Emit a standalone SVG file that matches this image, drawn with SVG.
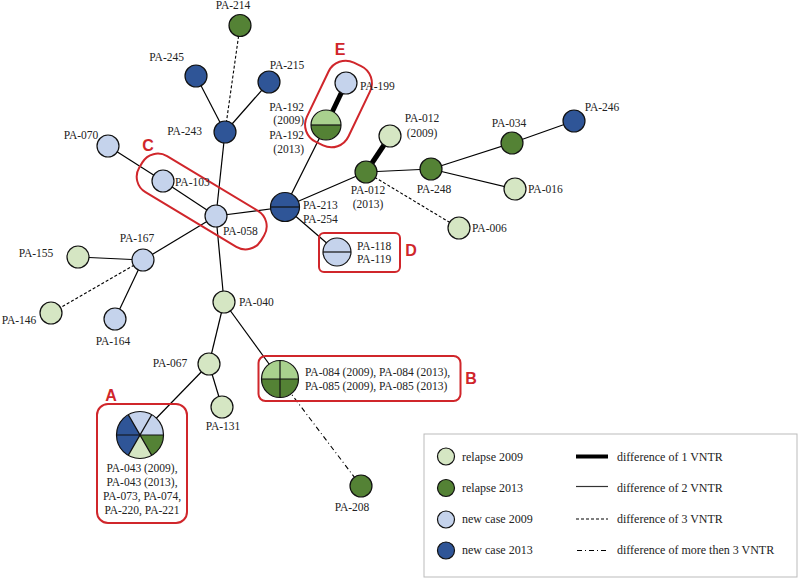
<svg xmlns="http://www.w3.org/2000/svg" width="800" height="581" viewBox="0 0 800 581">
<style>
.l{font-family:"Liberation Serif","Times New Roman",serif;font-size:11.5px;fill:#222}
.m{text-anchor:middle}
.e{text-anchor:end}
.g{font-family:"Liberation Serif","Times New Roman",serif;font-size:12px;fill:#222}
.t{font-family:"Liberation Sans",Arial,sans-serif;font-size:16px;font-weight:bold;fill:#d0262b}
.c1{stroke:#000;stroke-width:1.2;fill:none}
.c2{stroke:#000;stroke-width:5;fill:none}
.c3{stroke:#000;stroke-width:1.1;fill:none;stroke-dasharray:3 2}
.c4{stroke:#000;stroke-width:1.1;fill:none;stroke-dasharray:5 3 1 3}
.n{stroke:#111;stroke-width:1.2}
.pg{fill:#d5e6c3}
.bg{fill:#a9d18e}
.dg{fill:#548235}
.pb{fill:#c5d3ec}
.db{fill:#2f5597}
.box{fill:none;stroke:#d0262b;stroke-width:2}
.sep{stroke:#111;stroke-width:1.2;fill:none}
</style>
<rect width="800" height="581" fill="#fff"/>
<g id="connectors">
<line class="c3" x1="240" y1="26" x2="225" y2="132"/>
<line class="c1" x1="196" y1="76" x2="225" y2="132"/>
<line class="c1" x1="269" y1="82" x2="225" y2="132"/>
<line class="c1" x1="225" y1="132" x2="216" y2="216"/>
<line class="c1" x1="216" y1="216" x2="224" y2="302"/>
<line class="c1" x1="216" y1="216" x2="285" y2="207"/>
<line class="c1" x1="216" y1="216" x2="163" y2="181"/>
<line class="c1" x1="163" y1="181" x2="108" y2="146"/>
<line class="c1" x1="216" y1="216" x2="143" y2="260"/>
<line class="c1" x1="143" y1="260" x2="78" y2="257"/>
<line class="c3" x1="143" y1="260" x2="51" y2="313"/>
<line class="c1" x1="143" y1="260" x2="115" y2="319"/>
<line class="c1" x1="285" y1="207" x2="326" y2="125"/>
<line class="c2" x1="326" y1="125" x2="346" y2="83"/>
<line class="c1" x1="285" y1="207" x2="366" y2="172"/>
<line class="c2" x1="366" y1="172" x2="390" y2="136"/>
<line class="c1" x1="366" y1="172" x2="431" y2="169"/>
<line class="c3" x1="366" y1="172" x2="459" y2="228"/>
<line class="c1" x1="431" y1="169" x2="512" y2="143"/>
<line class="c1" x1="512" y1="143" x2="574" y2="121"/>
<line class="c1" x1="431" y1="169" x2="515" y2="189"/>
<line class="c1" x1="285" y1="207" x2="337" y2="252"/>
<line class="c1" x1="224" y1="302" x2="209" y2="364"/>
<line class="c1" x1="224" y1="302" x2="280" y2="379"/>
<line class="c1" x1="209" y1="364" x2="222" y2="407"/>
<line class="c1" x1="209" y1="364" x2="140" y2="435"/>
<line class="c4" x1="280" y1="379" x2="361" y2="486"/>
</g>
<g id="boxes">
<rect class="box" x="294.5" y="81" width="88" height="46" rx="19" transform="rotate(-64.4 338.5 104)"/>
<rect class="box" x="130.7" y="180.5" width="142" height="42" rx="18" transform="rotate(31 201.7 201.5)"/>
<rect class="box" x="319" y="233" width="81" height="39" rx="5"/>
<rect class="box" x="258.5" y="356" width="202" height="45" rx="7"/>
<rect class="box" x="97" y="404" width="90" height="119" rx="11"/>
<text class="t m" x="340" y="55">E</text>
<text class="t m" x="148" y="151">C</text>
<text class="t m" x="411" y="256">D</text>
<text class="t m" x="471" y="384">B</text>
<text class="t m" x="111" y="401">A</text>
</g>
<g id="PA-214"><circle class="n dg" cx="240" cy="25.5" r="11"/><text class="l m" x="233" y="9">PA-214</text></g>
<g id="PA-245"><circle class="n db" cx="196" cy="76" r="11"/><text class="l e" x="184" y="61">PA-245</text></g>
<g id="PA-215"><circle class="n db" cx="269" cy="82" r="11"/><text class="l m" x="287" y="69">PA-215</text></g>
<g id="PA-243"><circle class="n db" cx="225" cy="132" r="11"/><text class="l e" x="202" y="135">PA-243</text></g>
<g id="PA-199"><circle class="n pb" cx="346" cy="83" r="11"/><text class="l" x="360" y="90">PA-199</text></g>
<g id="PA-192">
<path class="bg" d="M311,125 A15,15 0 0 1 341,125 Z"/>
<path class="dg" d="M311,125 A15,15 0 0 0 341,125 Z"/>
<circle class="sep" cx="326" cy="125" r="15"/><line class="sep" x1="311" y1="125" x2="341" y2="125"/>
<text class="l e" x="304" y="111">PA-192</text><text class="l e" x="304" y="124">(2009)</text>
<text class="l e" x="304" y="139">PA-192</text><text class="l e" x="304" y="153">(2013)</text>
</g>
<g id="PA-012-2009"><circle class="n pg" cx="390" cy="136" r="11"/><text class="l m" x="422" y="122">PA-012</text><text class="l m" x="422" y="137">(2009)</text></g>
<g id="PA-012-2013"><circle class="n dg" cx="366" cy="172" r="11"/><text class="l m" x="368" y="194">PA-012</text><text class="l m" x="368" y="208">(2013)</text></g>
<g id="PA-248"><circle class="n dg" cx="431" cy="169" r="11"/><text class="l m" x="434" y="193">PA-248</text></g>
<g id="PA-034"><circle class="n dg" cx="512" cy="143" r="11"/><text class="l m" x="509" y="127">PA-034</text></g>
<g id="PA-246"><circle class="n db" cx="574" cy="121" r="11"/><text class="l m" x="602" y="111">PA-246</text></g>
<g id="PA-016"><circle class="n pg" cx="515" cy="189" r="11"/><text class="l" x="528" y="193">PA-016</text></g>
<g id="PA-006"><circle class="n pg" cx="459" cy="228" r="11"/><text class="l" x="472" y="232">PA-006</text></g>
<g id="PA-213">
<circle class="n db" cx="285" cy="207" r="14.5"/><line class="sep" x1="270.5" y1="207" x2="299.5" y2="207"/>
<text class="l" x="303" y="209">PA-213</text><text class="l" x="303" y="223">PA-254</text>
</g>
<g id="PA-118">
<circle class="n pb" cx="337" cy="252" r="14"/><line class="sep" x1="323" y1="252" x2="351" y2="252"/>
<text class="l" x="357" y="250">PA-118</text><text class="l" x="357" y="263">PA-119</text>
</g>
<g id="PA-070"><circle class="n pb" cx="108" cy="146" r="11"/><text class="l m" x="81" y="139">PA-070</text></g>
<g id="PA-103"><circle class="n pb" cx="163" cy="181" r="11"/><text class="l" x="175" y="186">PA-103</text></g>
<g id="PA-058"><circle class="n pb" cx="216" cy="216" r="11"/><text class="l" x="223" y="235">PA-058</text></g>
<g id="PA-167"><circle class="n pb" cx="143" cy="260" r="11"/><text class="l m" x="137" y="242">PA-167</text></g>
<g id="PA-155"><circle class="n pg" cx="78" cy="257" r="11"/><text class="l m" x="36" y="257">PA-155</text></g>
<g id="PA-146"><circle class="n pg" cx="51" cy="313" r="11"/><text class="l m" x="19" y="324">PA-146</text></g>
<g id="PA-164"><circle class="n pb" cx="115" cy="319" r="11"/><text class="l m" x="113" y="345">PA-164</text></g>
<g id="PA-040"><circle class="n pg" cx="224" cy="302" r="11"/><text class="l" x="239" y="306">PA-040</text></g>
<g id="PA-067"><circle class="n pg" cx="209" cy="364" r="11"/><text class="l m" x="170" y="367">PA-067</text></g>
<g id="PA-131"><circle class="n pg" cx="222" cy="407" r="11"/><text class="l m" x="223" y="430">PA-131</text></g>
<g id="PA-208"><circle class="n dg" cx="361" cy="486" r="11"/><text class="l m" x="352" y="511">PA-208</text></g>
<g id="PA-084">
<path class="bg" d="M261.5,379 A18.5,18.5 0 0 1 298.5,379 Z"/>
<path class="dg" d="M261.5,379 A18.5,18.5 0 0 0 298.5,379 Z"/>
<circle class="sep" cx="280" cy="379" r="18.5"/>
<line class="sep" x1="261.5" y1="379" x2="298.5" y2="379"/><line class="sep" x1="280" y1="360.5" x2="280" y2="397.5"/>
<text class="l" x="305" y="376">PA-084 (2009), PA-084 (2013),</text>
<text class="l" x="305" y="390">PA-085 (2009), PA-085 (2013)</text>
</g>
<g id="PA-043">
<path class="pb" d="M140,435 L128.25,414.65 A23.5,23.5 0 0 1 151.75,414.65 Z"/>
<path class="pb" d="M140,435 L151.75,414.65 A23.5,23.5 0 0 1 163.5,435 Z"/>
<path class="dg" d="M140,435 L163.5,435 A23.5,23.5 0 0 1 151.75,455.35 Z"/>
<path class="pg" d="M140,435 L151.75,455.35 A23.5,23.5 0 0 1 128.25,455.35 Z"/>
<path class="db" d="M140,435 L128.25,455.35 A23.5,23.5 0 0 1 116.5,435 Z"/>
<path class="db" d="M140,435 L116.5,435 A23.5,23.5 0 0 1 128.25,414.65 Z"/>
<circle class="sep" cx="140" cy="435" r="23.5"/>
<path class="sep" d="M116.5,435 H163.5 M128.25,414.65 L151.75,455.35 M151.75,414.65 L128.25,455.35"/>
<text class="l m" x="142" y="472">PA-043 (2009),</text>
<text class="l m" x="142" y="486">PA-043 (2013),</text>
<text class="l m" x="142" y="500">PA-073, PA-074,</text>
<text class="l m" x="142" y="514">PA-220, PA-221</text>
</g>
<g id="legend">
<rect x="424" y="434" width="373" height="143" fill="#fff" stroke="#bbb" stroke-width="1"/>
<circle class="n pg" cx="446" cy="456.5" r="8.5"/><text class="g" x="462" y="461">relapse 2009</text>
<circle class="n dg" cx="446" cy="488" r="8.5"/><text class="g" x="462" y="492">relapse 2013</text>
<circle class="n pb" cx="446" cy="519.5" r="8.5"/><text class="g" x="462" y="523">new case 2009</text>
<circle class="n db" cx="446" cy="550.5" r="8.5"/><text class="g" x="462" y="554">new case 2013</text>
<line x1="576" y1="456.5" x2="608" y2="456.5" stroke="#000" stroke-width="4"/><text class="g" x="617" y="461">difference of 1 VNTR</text>
<line x1="576" y1="486.5" x2="608" y2="486.5" stroke="#333" stroke-width="1.2"/><text class="g" x="617" y="492">difference of 2 VNTR</text>
<line x1="576" y1="519" x2="608" y2="519" stroke="#000" stroke-width="1.1" stroke-dasharray="3 2"/><text class="g" x="617" y="523">difference of 3 VNTR</text>
<line x1="577" y1="550.5" x2="608" y2="550.5" stroke="#000" stroke-width="1.1" stroke-dasharray="5 3 1 3"/><text class="g" x="617" y="554">difference of more then 3 VNTR</text>
</g>
</svg>
